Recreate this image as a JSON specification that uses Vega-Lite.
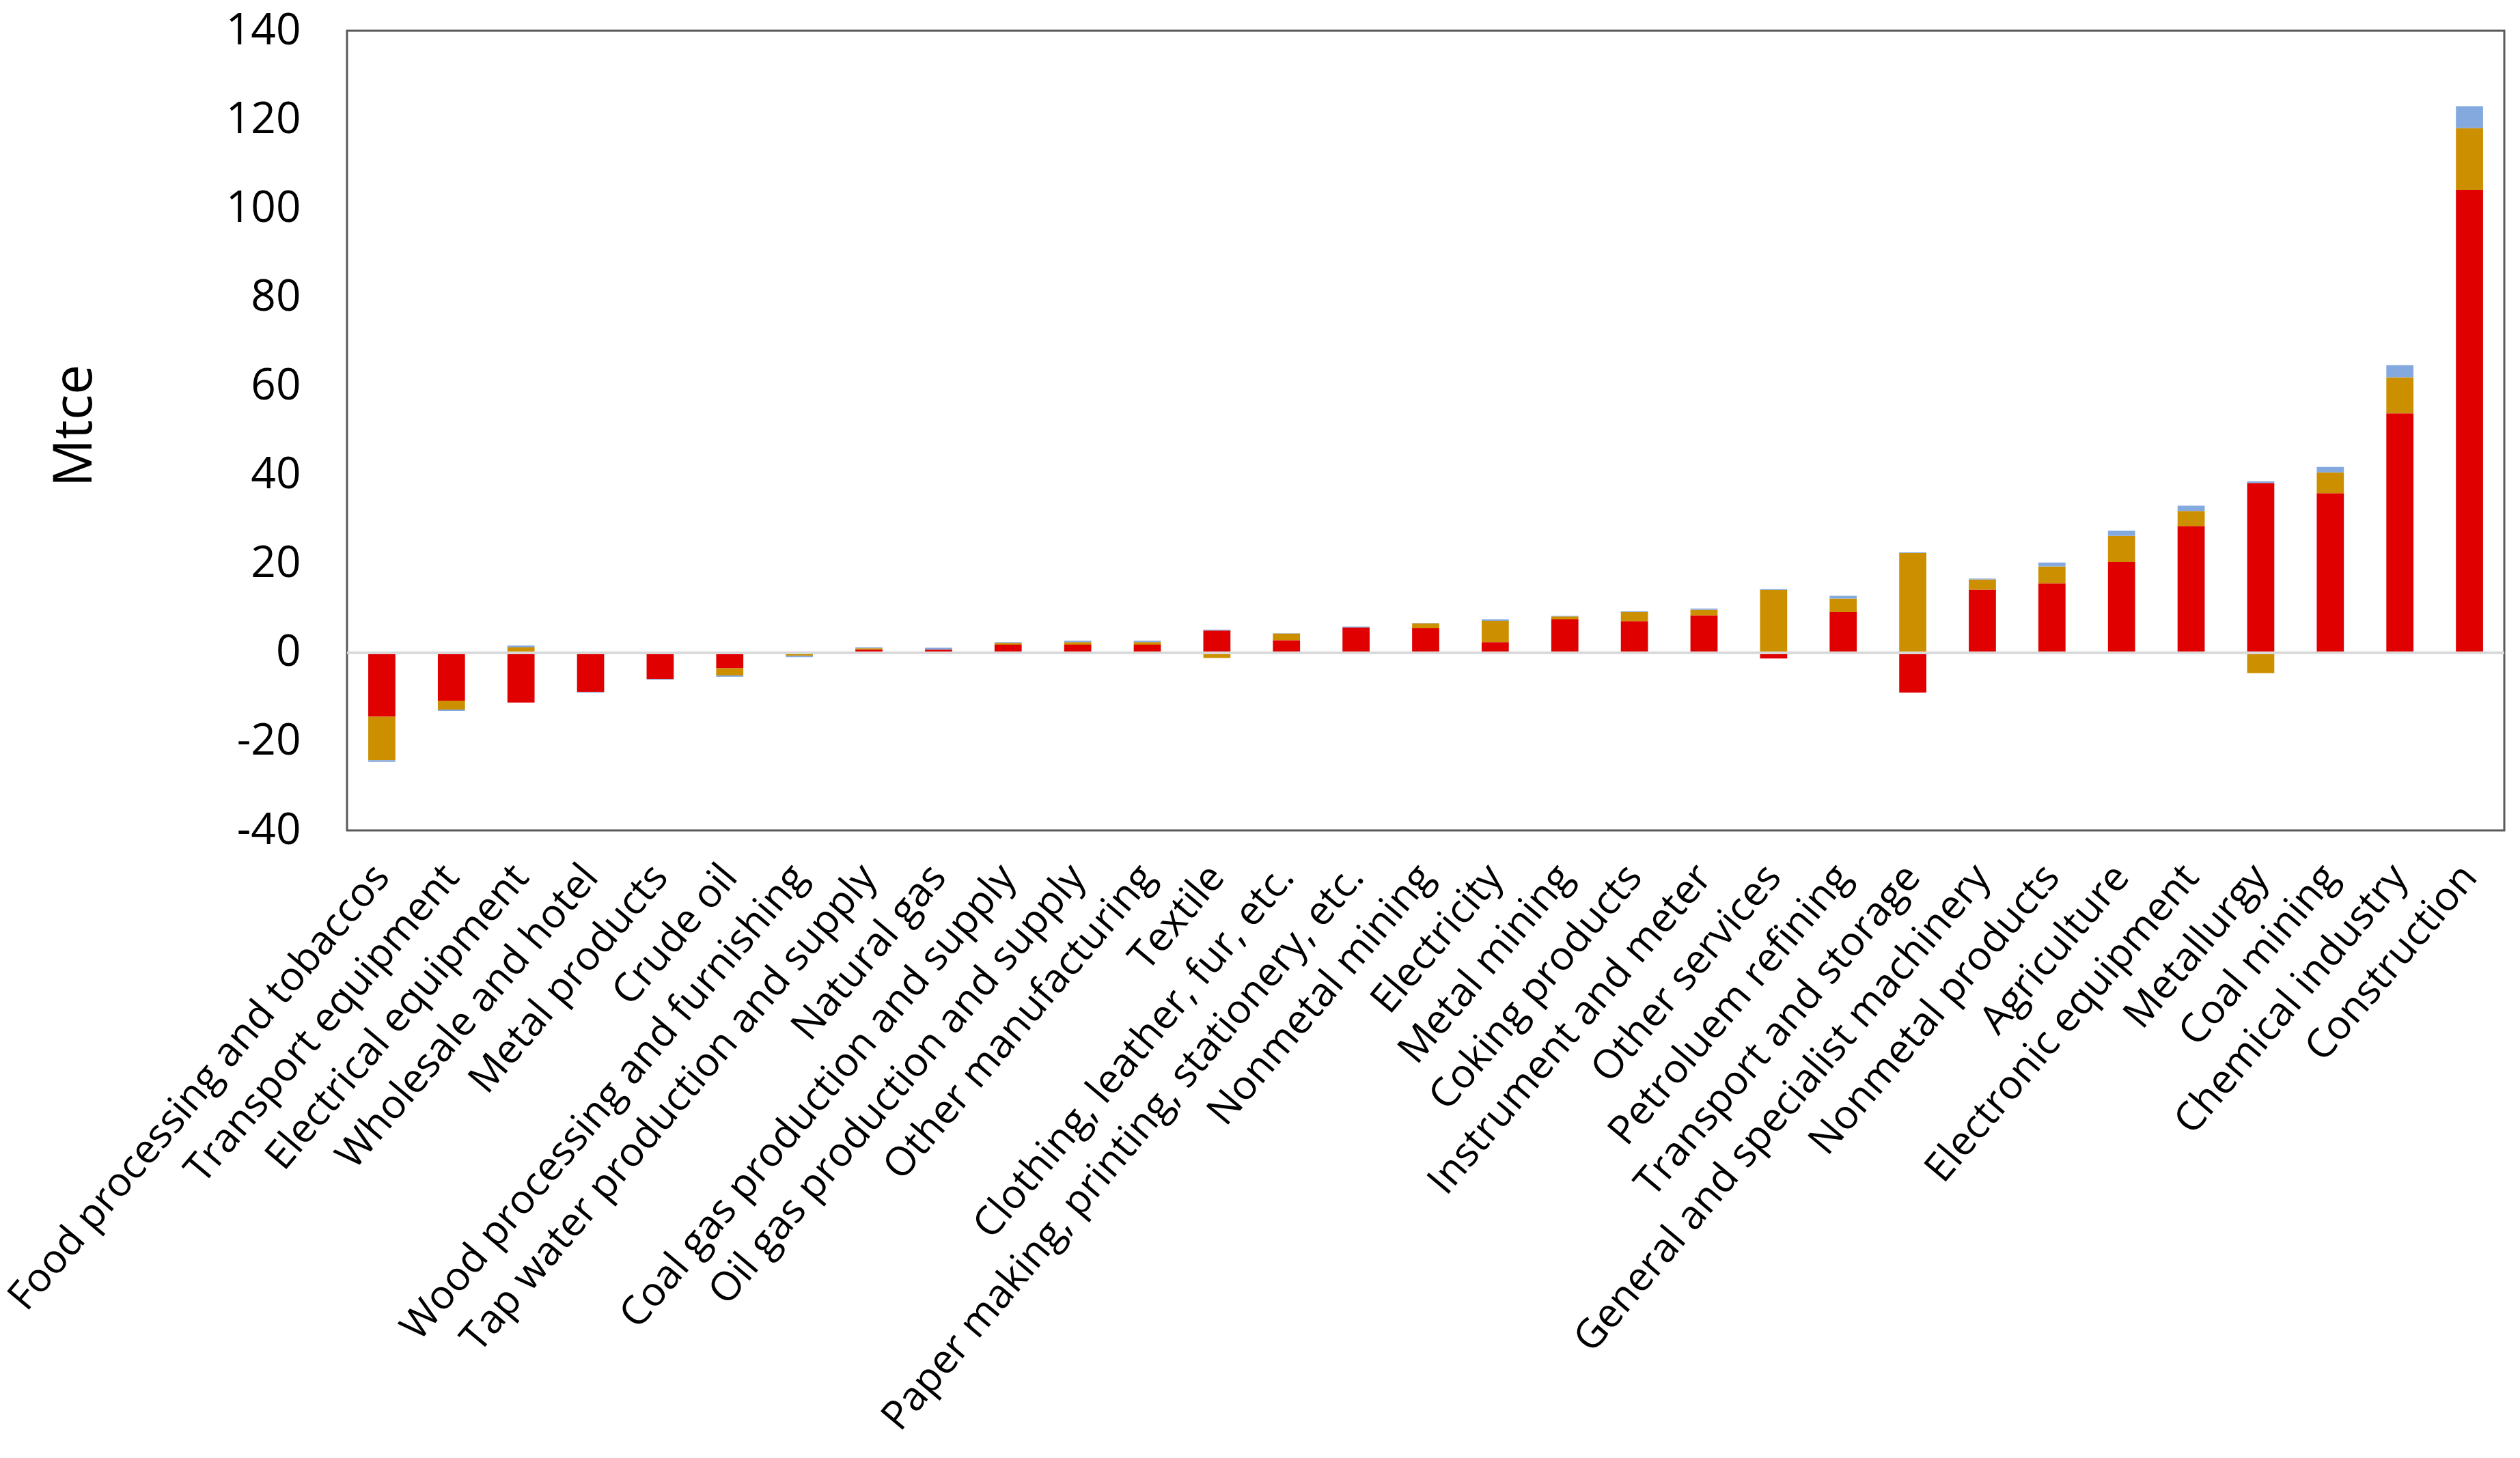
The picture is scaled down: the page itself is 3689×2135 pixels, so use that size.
{
  "$schema": "https://vega.github.io/schema/vega-lite/v6.json",
  "autosize": "none",
  "width": 3158,
  "height": 1171,
  "padding": {"left": 508, "top": 45, "right": 23, "bottom": 919},
  "background": "white",
  "config": {
    "view": {"stroke": "#595959", "strokeWidth": 3},
    "font": "Open Sans"
  },
  "data": {
    "values": [
      {"sector": "Food processing and tobaccos", "Series 1": -14.4, "Series 2": -9.8, "Series 3": -0.4},
      {"sector": "Transport equipment", "Series 1": -10.8, "Series 2": -2.0, "Series 3": -0.3},
      {"sector": "Electrical equipment", "Series 1": -11.2, "Series 2": 1.2, "Series 3": 0.4},
      {"sector": "Wholesale and hotel", "Series 1": -8.8, "Series 2": 0, "Series 3": -0.2},
      {"sector": "Metal products", "Series 1": -5.9, "Series 2": 0, "Series 3": -0.2},
      {"sector": "Crude oil", "Series 1": -3.5, "Series 2": -1.6, "Series 3": -0.3},
      {"sector": "Wood processing and furnishing", "Series 1": 0, "Series 2": -0.7, "Series 3": -0.3},
      {"sector": "Tap water production and supply", "Series 1": 0.7, "Series 2": 0.3, "Series 3": 0.2},
      {"sector": "Natural gas", "Series 1": 0.7, "Series 2": 0, "Series 3": 0.4},
      {"sector": "Coal gas production and supply", "Series 1": 1.8, "Series 2": 0.4, "Series 3": 0.2},
      {"sector": "Oil gas production and supply", "Series 1": 1.8, "Series 2": 0.6, "Series 3": 0.3},
      {"sector": "Other manufacturing", "Series 1": 1.8, "Series 2": 0.6, "Series 3": 0.3},
      {"sector": "Textile", "Series 1": 5.0, "Series 2": -1.2, "Series 3": 0.2},
      {"sector": "Clothing, leather, fur, etc.", "Series 1": 2.8, "Series 2": 1.5, "Series 3": 0.1},
      {"sector": "Paper making, printing, stationery, etc.", "Series 1": 5.7, "Series 2": 0, "Series 3": 0.2},
      {"sector": "Nonmetal mining", "Series 1": 5.5, "Series 2": 1.1, "Series 3": 0.1},
      {"sector": "Electricity", "Series 1": 2.4, "Series 2": 4.8, "Series 3": 0.3},
      {"sector": "Metal mining", "Series 1": 7.5, "Series 2": 0.7, "Series 3": 0.1},
      {"sector": "Coking products", "Series 1": 7.1, "Series 2": 2.1, "Series 3": 0.1},
      {"sector": "Instrument and meter", "Series 1": 8.4, "Series 2": 1.3, "Series 3": 0.2},
      {"sector": "Other services", "Series 1": -1.3, "Series 2": 14.1, "Series 3": 0.2},
      {"sector": "Petroluem refining", "Series 1": 9.2, "Series 2": 3.0, "Series 3": 0.6},
      {"sector": "Transport and storage", "Series 1": -9.0, "Series 2": 22.4, "Series 3": 0.2},
      {"sector": "General and specialist machinery", "Series 1": 14.2, "Series 2": 2.3, "Series 3": 0.2},
      {"sector": "Nonmetal products", "Series 1": 15.6, "Series 2": 3.8, "Series 3": 0.9},
      {"sector": "Agriculture", "Series 1": 20.4, "Series 2": 5.9, "Series 3": 1.2},
      {"sector": "Electronic equipment", "Series 1": 28.5, "Series 2": 3.4, "Series 3": 1.2},
      {"sector": "Metallurgy", "Series 1": 38.2, "Series 2": -4.6, "Series 3": 0.4},
      {"sector": "Coal mining", "Series 1": 35.9, "Series 2": 4.7, "Series 3": 1.2},
      {"sector": "Chemical industry", "Series 1": 53.9, "Series 2": 8.1, "Series 3": 2.7},
      {"sector": "Construction", "Series 1": 104.2, "Series 2": 13.9, "Series 3": 4.9}
    ]
  },
  "layer": [
    {
      "transform": [{"fold": ["Series 1", "Series 2", "Series 3"], "as": ["series", "value"]}],
      "mark": {"type": "bar"},
      "encoding": {
        "x": {
          "field": "sector",
          "type": "nominal",
          "sort": null,
          "scale": {"paddingInner": 0.61, "paddingOuter": 0.305},
          "axis": {
            "title": null,
            "labelAngle": -50,
            "labelAlign": "right",
            "labelBaseline": "middle",
            "labelFontSize": 59,
            "labelColor": "black",
            "labelPadding": 58,
            "labelLimit": 2000,
            "ticks": false,
            "tickSize": 0,
            "domain": false,
            "labelOverlap": false
          }
        },
        "y": {
          "field": "value",
          "type": "quantitative",
          "stack": "zero",
          "scale": {"domain": [-40, 140], "nice": false},
          "axis": {
            "title": "Mtce",
            "titleFontSize": 78,
            "titleFontWeight": "normal",
            "titleColor": "black",
            "titleX": -398,
            "titleY": 578,
            "titleAngle": -90,
            "titleAlign": "center",
            "titleBaseline": "middle",
            "values": [-40, -20, 0, 20, 40, 60, 80, 100, 120, 140],
            "labelExpr": "datum.value + ''",
            "labelFontSize": 64,
            "labelColor": "black",
            "labelPadding": 68,
            "ticks": false,
            "tickSize": 0,
            "domain": false,
            "grid": false
          }
        },
        "color": {
          "field": "series",
          "type": "nominal",
          "scale": {"domain": ["Series 1", "Series 2", "Series 3"], "range": ["#E00000", "#CC8F00", "#84A9DE"]},
          "legend": null
        },
        "order": {"field": "series"}
      }
    },
    {
      "mark": {"type": "rule", "color": "#D9D9D9", "strokeWidth": 3},
      "encoding": {"y": {"datum": 0}}
    }
  ]
}
